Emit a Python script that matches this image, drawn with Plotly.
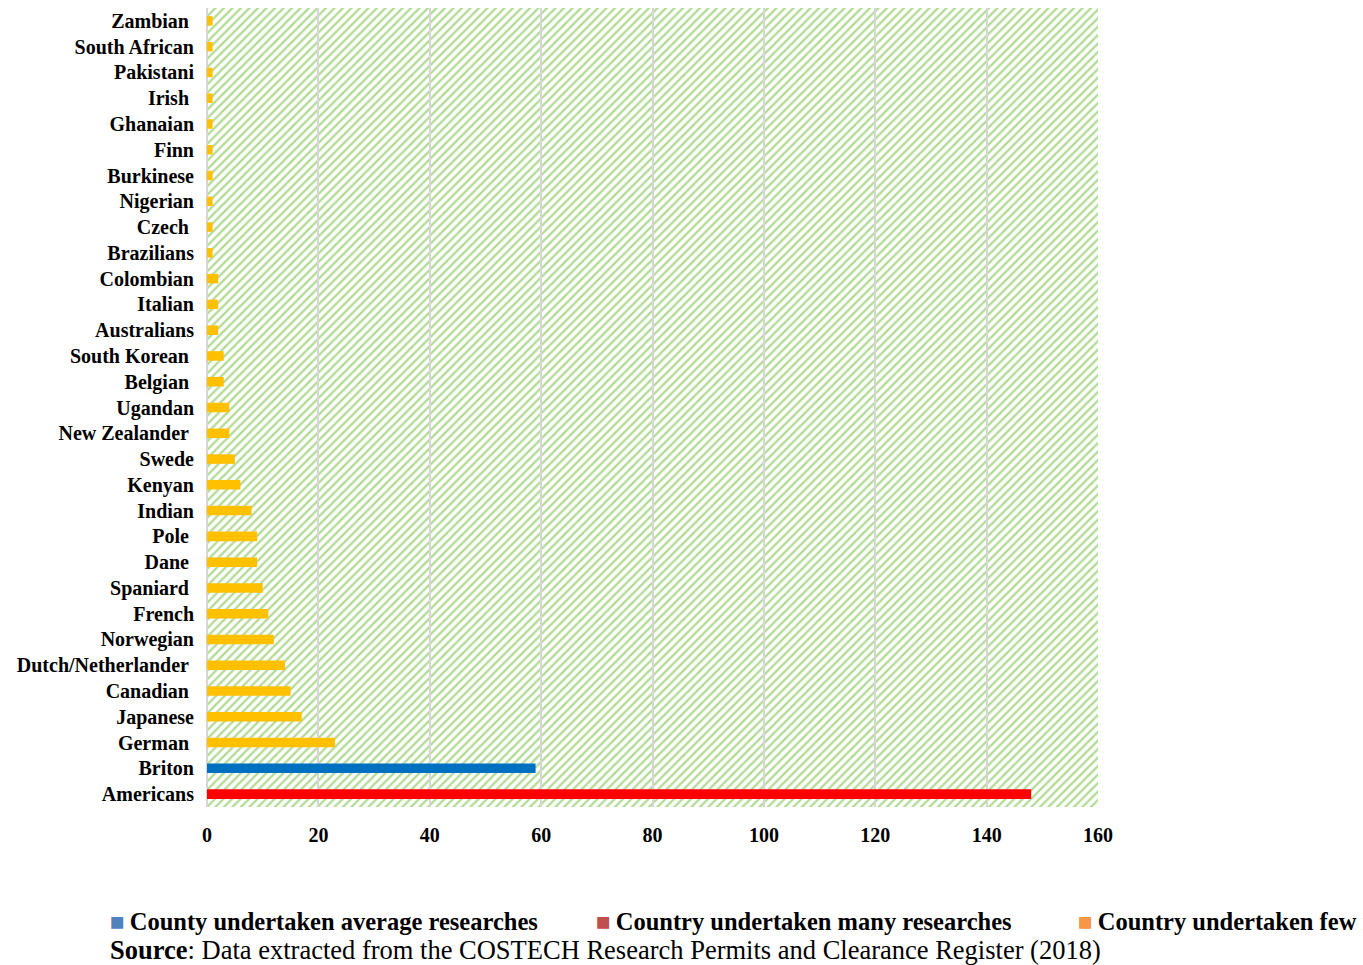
import base64
import plotly.graph_objects as go

# Nationalities of foreign researchers, bottom (largest) to top
nationalities = [
    "Americans", "Briton", "German\u00a0", "Japanese", "Canadian\u00a0",
    "Dutch/Netherlander\u00a0", "Norwegian", "French", "Spaniard\u00a0", "Dane\u00a0",
    "Pole\u00a0", "Indian", "Kenyan", "Swede", "New Zealander\u00a0",
    "Ugandan", "Belgian\u00a0", "South Korean\u00a0", "Australians", "Italian",
    "Colombian", "Brazilians", "Czech\u00a0", "Nigerian", "Burkinese",
    "Finn", "Ghanaian", "Irish\u00a0", "Pakistani", "South African",
    "Zambian\u00a0",
]
researches = [
    148, 59, 23, 17, 15,
    14, 12, 11, 10, 9,
    9, 8, 6, 5, 4,
    4, 3, 3, 2, 2,
    2, 1, 1, 1, 1,
    1, 1, 1, 1, 1,
    1,
]

group_many = ["Americans"]
group_average = ["Briton"]

x_ticks = [0, 20, 40, 60, 80, 100, 120, 140, 160]

legend_items = [
    ("County undertaken average researches", "#4f81bd"),
    ("Country undertaken many researches", "#c0504d"),
    ("Country undertaken few researches", "#f79646"),
]
source_note = ("<b>Source</b>: Data extracted from the COSTECH Research "
               "Permits and Clearance Register (2018)")

bar_colors = []
for name in nationalities:
    if name in group_many:
        bar_colors.append("#ff0000")
    elif name in group_average:
        bar_colors.append("#0070c0")
    else:
        bar_colors.append("#ffc000")

fig = go.Figure()
fig.add_trace(go.Bar(
    x=researches,
    y=nationalities,
    orientation="h",
    marker=dict(color=bar_colors, line=dict(width=0)),
    width=0.37,
    showlegend=False,
))

# Light-green diagonal hatching behind the plotting area
stripes_svg = (
    '<svg xmlns="http://www.w3.org/2000/svg" width="891" height="799" '
    'viewBox="0 0 891 799" preserveAspectRatio="none">'
    '<defs><pattern id="h" patternUnits="userSpaceOnUse" width="8.5" height="8.5">'
    '<path d="M-2,2 l4,-4 M0,8.5 l8.5,-8.5 M6.5,10.5 l4,-4" stroke="#b3dc96" '
    'stroke-width="2.4"/></pattern></defs>'
    '<rect width="891" height="799" fill="#ffffff"/>'
    '<rect width="891" height="799" fill="url(#h)"/></svg>'
)
stripes_uri = "data:image/svg+xml;base64," + base64.b64encode(
    stripes_svg.encode()).decode()
fig.add_layout_image(dict(
    source=stripes_uri, xref="paper", yref="paper", x=0, y=1,
    sizex=1, sizey=1, sizing="stretch", layer="below",
    xanchor="left", yanchor="top",
))

tick_font = dict(family="Liberation Serif", size=20, color="#000000")

fig.update_layout(
    width=1363,
    height=965,
    margin=dict(l=207, r=265, t=8, b=158),
    paper_bgcolor="#ffffff",
    plot_bgcolor="rgba(0,0,0,0)",
    xaxis=dict(
        range=[0, 160],
        tickvals=x_ticks,
        ticktext=[f"<b>{v}</b>" for v in x_ticks],
        tickfont=tick_font,
        ticklabelstandoff=14,
        showgrid=True,
        gridcolor="#d6d6d6",
        gridwidth=2,
        zeroline=True,
        zerolinecolor="#d6d6d6",
        zerolinewidth=2,
        ticks="",
        showline=False,
    ),
    yaxis=dict(
        categoryorder="array",
        categoryarray=nationalities,
        range=[-0.5, len(nationalities) - 0.5],
        tickvals=nationalities,
        ticktext=[f"<b>{n}</b>" for n in nationalities],
        tickfont=tick_font,
        ticklabelstandoff=12,
        showgrid=False,
        zeroline=False,
        ticks="",
    ),
)

# Legend strip and source note underneath the chart
plot_left, plot_w, plot_bottom, plot_h = 207, 891, 807, 799
legend_x = [108, 594, 1076]
for (label, color), xpos in zip(legend_items, legend_x):
    fig.add_annotation(
        xref="paper", yref="paper",
        x=(xpos - plot_left) / plot_w, y=-(922 - plot_bottom) / plot_h,
        text=f"<span style='color:{color}'>\u25a0</span>\u2009<b>{label}</b>",
        showarrow=False, xanchor="left", yanchor="middle",
        font=dict(family="Liberation Serif", size=24.5, color="#000000"),
    )
fig.add_annotation(
    xref="paper", yref="paper",
    x=(108 - plot_left) / plot_w, y=-(950 - plot_bottom) / plot_h,
    text=source_note, showarrow=False, xanchor="left", yanchor="middle",
    font=dict(family="Liberation Serif", size=26.5, color="#000000"),
)

fig.write_html("out.html")
